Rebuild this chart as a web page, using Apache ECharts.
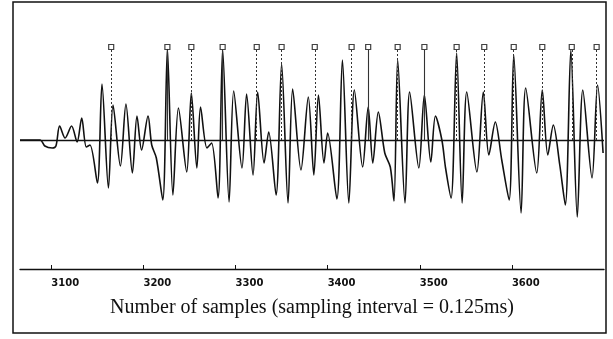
<!DOCTYPE html>
<html>
<head>
<meta charset="utf-8">
<script src="https://cdn.jsdelivr.net/npm/echarts@6/dist/echarts.min.js"></script>
<style>html,body{margin:0;padding:0;background:#fff}#c{width:613px;height:339px}</style>
</head>
<body>
<div id="c"></div>
<script>
// waveform extrema: [sample number, amplitude]
var waveSamples = [3066,3088,3093,3101,3105,3109,3115,3122,3128,3133,3138,3142,3150,3155,3162,3167,3175,3181,3188,3193,3198,3205,3209,3214,3221,3226,3232,3238,3247,3252,3258,3262,3269,3274,3281,3286,3293,3298,3307,3312,3319,3324,3331,3336,3344,3350,3357,3362,3371,3379,3385,3390,3396,3400,3410,3416,3423,3429,3438,3444,3449,3455,3462,3468,3472,3476,3484,3489,3499,3505,3512,3517,3524,3528,3534,3540,3546,3551,3562,3569,3575,3582,3589,3597,3602,3610,3615,3627,3633,3639,3645,3652,3658,3664,3671,3677,3687,3693,3699];
var waveValues  = [0,0,-6,-8,-6,14,2,14,-2,22,-7,-5,-43,56,-48,35,-26,36,-33,24,-10,24,-5,-18,-60,91,-55,32,-32,47,-28,33,-8,-3,-58,90,-62,49,-28,46,-35,48,-23,8,-55,76,-63,51,-30,43,-35,45,-23,7,-59,80,-63,50,-27,33,-23,28,-13,-27,-61,80,-63,48,-28,45,-22,24,0,-28,-58,87,-63,48,-32,48,-15,18,-20,-60,85,-73,52,-33,50,-15,15,-25,-65,90,-77,50,-38,55,-13];
// pitch marks (squares at top)
var markSamples = [3165,3226,3252,3286,3323,3350,3386,3426,3444,3476,3505,3540,3570,3602,3633,3665,3692];
var markSolid   = [0,1,0,1,0,0,0,0,1,0,1,0,0,0,0,0,0];
var markLevel = 93;
var tickValues = [3100,3200,3300,3400,3500,3600];
var xMin = 3066, xMax = 3700;

var wave = waveSamples.map(function(s,i){return [s, waveValues[i]];});
var marks = markSamples.map(function(s){return [s, markLevel];});
var vlines = markSamples.map(function(s,i){
  return [{coord:[s, markLevel-3], lineStyle:{type: markSolid[i] ? 'solid' : [2,2], width: markSolid[i] ? 1.1 : 1, color:'#333'}},
          {coord:[s, 0]}];
});

var chart = echarts.init(document.getElementById('c'), null, {renderer:'canvas'});
chart.setOption({
  animation:false,
  backgroundColor:'#fff',
  grid:{left:20, right:9, top:10, bottom:70},
  xAxis:{
    type:'value', min:xMin, max:xMax,
    splitLine:{show:false},
    axisLine:{onZero:false, lineStyle:{color:'#111', width:1.4}},
    axisTick:{inside:true, length:4, customValues:tickValues, lineStyle:{color:'#111'}},
    axisLabel:{customValues:tickValues, align:'left', margin:9, color:'#111',
      fontFamily:'DejaVu Sans', fontWeight:'bold', fontSize:10,
      formatter:function(v){return String(v);}},
    name:'Number of samples (sampling interval = 0.125ms)',
    nameLocation:'middle', nameGap:29,
    nameTextStyle:{fontFamily:'Liberation Serif', fontSize:20, color:'#111', verticalAlign:'top'}
  },
  yAxis:{type:'value', min:-129, max:130, show:false},
  series:[
    {type:'line', data:wave, smooth:0.3, symbol:'none',
     lineStyle:{color:'#111', width:1.6},
     markLine:{silent:true, symbol:'none', label:{show:false},
       lineStyle:{color:'#111', width:1.3, type:'solid'},
       data:[{yAxis:0}]}},
    {type:'scatter', data:marks, symbol:'rect', symbolSize:5,
     itemStyle:{color:'#fff', borderColor:'#111', borderWidth:1.2}, z:5,
     markLine:{silent:true, symbol:'none', label:{show:false}, data:vlines}}
  ],
  graphic:[{type:'rect', shape:{x:13, y:2, width:593, height:331},
    style:{fill:'none', stroke:'#111', lineWidth:1.5}, silent:true, z:100}]
});
</script>
</body>
</html>
